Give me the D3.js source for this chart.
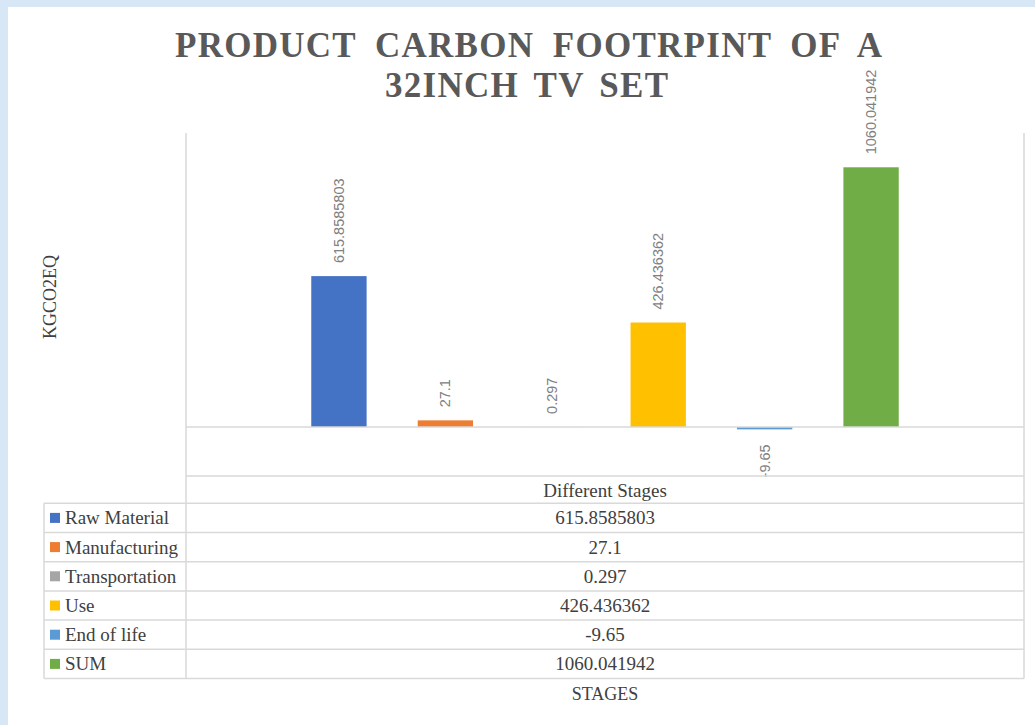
<!DOCTYPE html>
<html>
<head>
<meta charset="utf-8">
<script src="https://cdn.jsdelivr.net/npm/d3@7"></script>
<style>
  html, body { margin: 0; padding: 0; background: #d8e7f5; }
  svg { display: block; }
</style>
</head>
<body>
<svg id="chart" width="1035" height="725"></svg>
<script>
// ---- data ----
const titleLines = ["PRODUCT CARBON FOOTRPINT OF A", "32INCH TV SET"];
const categoryName = "Different Stages";
const seriesNames = ["Raw Material", "Manufacturing", "Transportation", "Use", "End of life", "SUM"];
const seriesValues = [615.8585803, 27.1, 0.297, 426.436362, -9.65, 1060.041942];
const seriesColors = ["#4472C4", "#ED7D31", "#A5A5A5", "#FFC000", "#5B9BD5", "#70AD47"];
const yAxisTitle = "KGCO2EQ";
const xAxisTitle = "STAGES";
const yDomain = [-200, 1200];

// ---- layout ----
const svg = d3.select("#chart");
const W = 1035, H = 725;
const plot = { left: 186, right: 1024, top: 133, bottom: 476 };
const table = { left: 44, headerTop: 476, top: 503.3, rowH: 29.2 };
const gridColor = "#d9d9d9";
const serif = "Liberation Serif";
const sans = "Liberation Sans";

// background & card
svg.append("rect").attr("x", 0).attr("y", 0).attr("width", W).attr("height", H).attr("fill", "#d8e7f5");
svg.append("rect").attr("x", 8).attr("y", 7).attr("width", W - 8).attr("height", H - 7).attr("fill", "#ffffff");

// title: bold serif; letter spacing fitted to the first word, word spacing to the line width
const titleSpec = [
  { x: 175, y: 57, len: 707 },
  { x: 385, y: 97, len: 283 }
];
const titleFont = t => t.style("font-family", serif).style("font-weight", "bold").style("font-size", "35px");
const probe = svg.append("text").call(titleFont).text("PRODUCT");
const wordNatural = probe.node().getComputedTextLength();
probe.remove();
const letterSp = Math.max(0, (182 - wordNatural) / 7);
svg.selectAll("text.title").data(titleLines).join("text")
  .attr("class", "title")
  .attr("x", (d, i) => titleSpec[i].x)
  .attr("y", (d, i) => titleSpec[i].y)
  .call(titleFont)
  .attr("fill", "#595959")
  .style("letter-spacing", letterSp + "px")
  .text(d => d)
  .each(function (d, i) {
    const w = this.getComputedTextLength();
    const nSpaces = d.split(" ").length - 1;
    const ws = (titleSpec[i].len + letterSp - w) / nSpaces;
    d3.select(this).style("word-spacing", ws + "px");
  });

// scales
const y = d3.scaleLinear().domain(yDomain).range([plot.bottom, plot.top]);
const x = d3.scaleBand().domain(seriesNames).range([plot.left, plot.right])
  .paddingInner(0.48).paddingOuter(1.177);

// bars
const data = seriesNames.map((n, i) => ({ name: n, value: seriesValues[i], color: seriesColors[i] }));
svg.append("g").selectAll("rect").data(data).join("rect")
  .attr("x", d => x(d.name))
  .attr("width", x.bandwidth())
  .attr("y", d => y(Math.max(0, d.value)))
  .attr("height", d => Math.abs(y(d.value) - y(0)))
  .attr("fill", d => d.color);

// zero line
svg.append("line")
  .attr("x1", plot.left).attr("x2", plot.right)
  .attr("y1", y(0)).attr("y2", y(0))
  .attr("stroke", gridColor).attr("stroke-width", 1.5);

// data labels
svg.append("g").selectAll("text").data(data).join("text")
  .attr("transform", d => {
    const cx = x(d.name) + x.bandwidth() / 2 + 5;
    const yy = d.value >= 0 ? y(d.value) - 13 : y(d.value) + 15;
    return `translate(${cx},${yy}) rotate(-90)`;
  })
  .attr("text-anchor", d => d.value >= 0 ? "start" : "end")
  .style("font-family", sans)
  .style("font-size", "14.5px")
  .attr("fill", "#808080")
  .text(d => String(d.value));

// data table
const nRows = seriesNames.length;
const tableBottom = table.top + nRows * table.rowH;
const g = svg.append("g").attr("stroke", gridColor).attr("stroke-width", 1.5);
g.append("line").attr("x1", plot.left).attr("x2", plot.left).attr("y1", plot.top).attr("y2", tableBottom);
g.append("line").attr("x1", plot.right).attr("x2", plot.right).attr("y1", plot.top).attr("y2", tableBottom);
g.append("line").attr("x1", plot.left).attr("x2", plot.right).attr("y1", table.headerTop).attr("y2", table.headerTop);
d3.range(nRows + 1).forEach(i => {
  const yy = table.top + i * table.rowH;
  g.append("line").attr("x1", table.left).attr("x2", plot.right).attr("y1", yy).attr("y2", yy);
});
g.append("line").attr("x1", table.left).attr("x2", table.left).attr("y1", table.top).attr("y2", tableBottom);

const midX = (plot.left + plot.right) / 2;
svg.append("text")
  .attr("x", midX).attr("y", 497)
  .attr("text-anchor", "middle")
  .style("font-family", serif).style("font-size", "19px").attr("fill", "#404040")
  .text(categoryName);

const rows = svg.append("g").selectAll("g").data(data).join("g")
  .attr("transform", (d, i) => `translate(0,${table.top + i * table.rowH + table.rowH / 2})`);
rows.append("rect")
  .attr("x", 50).attr("y", -5).attr("width", 10).attr("height", 10)
  .attr("fill", d => d.color);
rows.append("text")
  .attr("x", 65).attr("y", 6.5)
  .style("font-family", serif).style("font-size", "19px").attr("fill", "#404040")
  .text(d => d.name);
rows.append("text")
  .attr("x", midX).attr("y", 6.5)
  .attr("text-anchor", "middle")
  .style("font-family", serif).style("font-size", "19px").attr("fill", "#404040")
  .text(d => String(d.value));

// axis titles
svg.append("text")
  .attr("x", midX).attr("y", 700)
  .attr("text-anchor", "middle")
  .style("font-family", serif).style("font-size", "18px").attr("fill", "#404040")
  .text(xAxisTitle);
svg.append("text")
  .attr("transform", `translate(56,297) rotate(-90)`)
  .attr("text-anchor", "middle")
  .style("font-family", serif).style("font-size", "18px").attr("fill", "#404040")
  .text(yAxisTitle);
</script>
</body>
</html>
